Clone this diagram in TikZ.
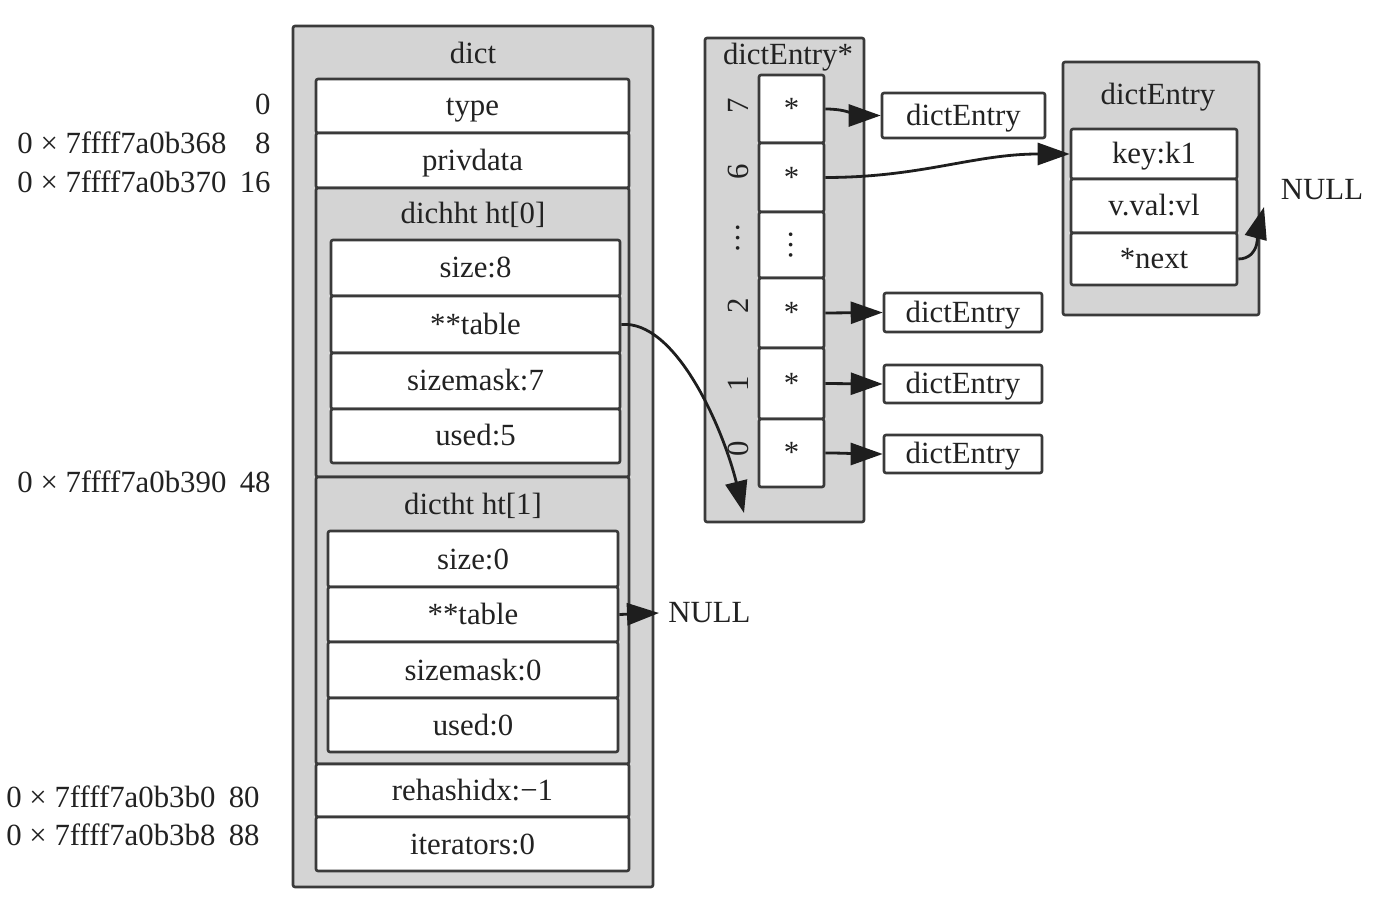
\documentclass[tikz,border=0pt]{standalone}
\usepackage{fontspec}
\setmainfont{Liberation Serif}
\usetikzlibrary{arrows.meta,fit}
\definecolor{bord}{HTML}{3A3A3A}
\definecolor{boxgray}{HTML}{D4D4D4}
\definecolor{txt}{HTML}{222222}
\definecolor{arr}{HTML}{1E1E1E}
\begin{document}
\begin{tikzpicture}[x=0.5pt,y=-0.5pt,
  font=\fontsize{15.4}{18}\selectfont, text=txt,
  graybox/.style={draw=bord, line width=1.3pt, fill=boxgray, inner sep=0pt, rounded corners=1pt},
  cell/.style={draw=bord, line width=1.3pt, fill=white, inner sep=0pt, rounded corners=1pt},
  lbl/.style={inner sep=0pt},
  every label/.style={inner sep=0pt, text=txt, text height=12pt, text depth=2pt},
  ptr/.style={draw=arr, line width=1.4pt, -{Triangle[length=16pt,width=11pt]}},
]
\useasboundingbox (0,0) rectangle (1382,898);

% ---------- addresses ----------
\node[lbl, anchor=east] (n0) at (271,104) {0};
\node[lbl, anchor=west] (a8) at (17,143) {0 × 7ffff7a0b368};
\node[lbl, anchor=east] (n8) at (271,143) {8};
\node[lbl, anchor=west] (a16) at (17,182) {0 × 7ffff7a0b370};
\node[lbl, anchor=east] (n16) at (271,182) {16};
\node[lbl, anchor=west] (a48) at (17,482) {0 × 7ffff7a0b390};
\node[lbl, anchor=east] (n48) at (271,482) {48};
\node[lbl, anchor=west] (a80) at (6,797) {0 × 7ffff7a0b3b0};
\node[lbl, anchor=east] (n80) at (260,797) {80};
\node[lbl, anchor=west] (a88) at (6,835) {0 × 7ffff7a0b3b8};
\node[lbl, anchor=east] (n88) at (260,835) {88};

% ---------- dict ----------
\node[graybox, fit={(293,26)(653,887)}] (dict) {};
\node[lbl] (dictT) at (473,53) {dict};
\node[cell, fit={(316,79)(629,133)}, label={center:{type}}] (type) {};
\node[cell, fit={(316,133)(629,188)}, label={center:{privdata}}] (priv) {};

\node[graybox, fit={(316,188)(629,477)}] (ht0) {};
\node[lbl] (ht0T) at (473,215) {dichht ht[0]};
\node[cell, fit={(331,240)(620,296)}, label={center:{size:8}}] (s0) {};
\node[cell, fit={(331,296)(620,353)}, label={center:{**table}}] (tbl0) {};
\node[cell, fit={(331,353)(620,409)}, label={center:{sizemask:7}}] (m0) {};
\node[cell, fit={(331,409)(620,463)}, label={center:{used:5}}] (u0) {};

\node[graybox, fit={(316,477)(629,764)}] (ht1) {};
\node[lbl] (ht1T) at (473,506) {dictht ht[1]};
\node[cell, fit={(328,531)(618,587)}, label={center:{size:0}}] (s1) {};
\node[cell, fit={(328,587)(618,642)}, label={center:{**table}}] (tbl1) {};
\node[cell, fit={(328,642)(618,698)}, label={center:{sizemask:0}}] (m1) {};
\node[cell, fit={(328,698)(618,752)}, label={center:{used:0}}] (u1) {};

\node[cell, fit={(316,764)(629,817)}, label={center:{rehashidx:−1}}] (rh) {};
\node[cell, fit={(316,817)(629,871)}, label={center:{iterators:0}}] (it) {};

\node[lbl, anchor=west] (null1) at (668,613) {NULL};

% ---------- dictEntry* table ----------
\node[graybox, fit={(705,38)(864,522)}] (tab) {};
\node[lbl] (tabT) at (788,57) {dictEntry*};
\node[cell, fit={(759,75)(824,143)}, label={center:{*}}] (c7) {};
\node[cell, fit={(759,143)(824,212)}, label={center:{*}}] (c6) {};
\node[cell, fit={(759,212)(824,278)}] (cd) {};
\node[lbl, rotate=90] (cdT) at (cd) {…};
\node[cell, fit={(759,278)(824,348)}, label={center:{*}}] (c2) {};
\node[cell, fit={(759,348)(824,419)}, label={center:{*}}] (c1) {};
\node[cell, fit={(759,419)(824,487)}, label={center:{*}}] (c0) {};
\node[lbl, rotate=90] (i7) at (738,106) {7};
\node[lbl, rotate=90] (i6) at (738,172) {6};
\node[lbl, rotate=90] (id) at (738,238) {…};
\node[lbl, rotate=90] (i2) at (738,306) {2};
\node[lbl, rotate=90] (i1) at (738,384) {1};
\node[lbl, rotate=90] (i0) at (738,449) {0};

\node[cell, fit={(882,93)(1045,138)}, label={center:{dictEntry}}] (de7) {};
\node[cell, fit={(884,293)(1042,332)}, label={center:{dictEntry}}] (de2) {};
\node[cell, fit={(884,365)(1042,403)}, label={center:{dictEntry}}] (de1) {};
\node[cell, fit={(884,435)(1042,473)}, label={center:{dictEntry}}] (de0) {};

% ---------- dictEntry ----------
\node[graybox, fit={(1063,62)(1259,315)}] (ent) {};
\node[lbl] (entT) at (1158,97) {dictEntry};
\node[cell, fit={(1071,129)(1237,179)}, label={center:{key:k1}}] (key) {};
\node[cell, fit={(1071,179)(1237,233)}, label={center:{v.val:vl}}] (val) {};
\node[cell, fit={(1071,233)(1237,285)}, label={center:{*next}}] (nxt) {};
\node[lbl] (null2) at (1322,190) {NULL};
\coordinate (ntip) at (1264,207);
\coordinate (tip0) at (744,513);
\coordinate (n1tip) at (659,613);

% ---------- pointers ----------
\draw[ptr] (tbl1.east) -- (n1tip);
\draw[ptr] (tbl0.east) .. controls (675,320) and (722,425) .. (tip0);
\draw[ptr] (c7.east) to[out=0,in=180] (de7.west);
\draw[ptr] (c6.east) to[out=0,in=180] (key.west);
\draw[ptr] (c2.east) -- (de2.west);
\draw[ptr] (c1.east) -- (de1.west);
\draw[ptr] (c0.east) to[out=0,in=180] (de0.west);
\draw[ptr] (nxt.east) to[out=0,in=-105] (ntip);
\end{tikzpicture}
\end{document}
